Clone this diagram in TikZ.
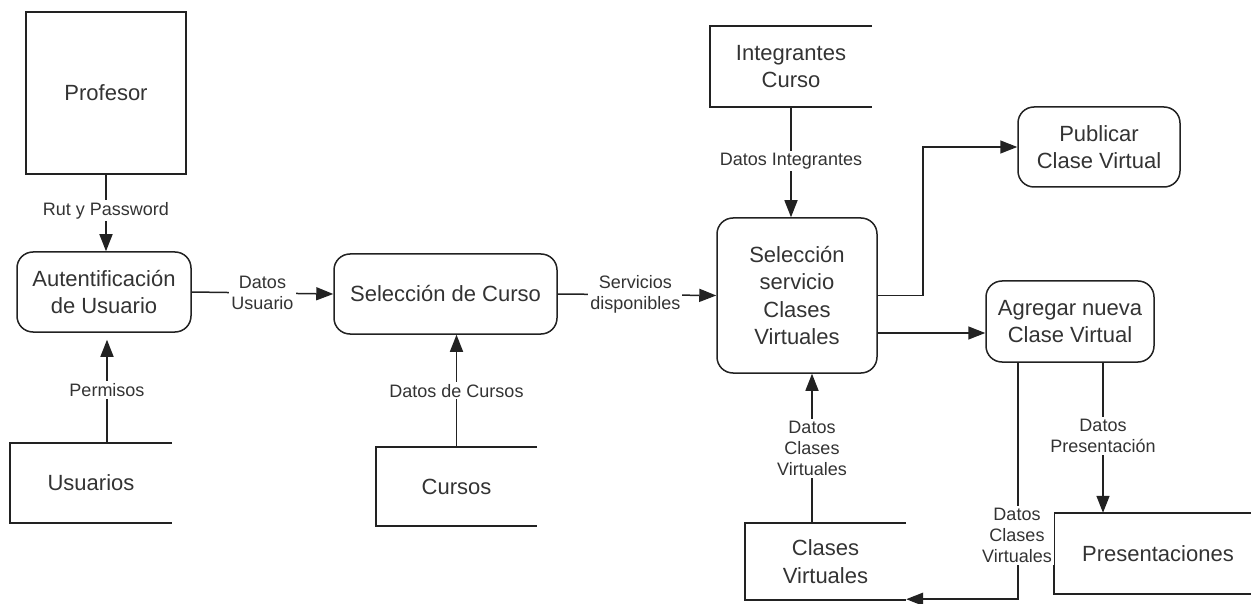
\documentclass[tikz,border=0pt]{standalone}
\usepackage{fontspec}
\setmainfont{Liberation Sans}
\usetikzlibrary{arrows.meta,calc}
\definecolor{txt}{HTML}{333333}
\definecolor{ln}{HTML}{222222}
\begin{document}
\begin{tikzpicture}[x=1pt,y=-1pt,
  every node/.style={text=txt},
  proc/.style={draw=ln,line width=1.5pt,rounded corners=16pt,align=center,
    font=\fontsize{22}{27.5}\selectfont,inner sep=0pt},
  ent/.style={draw=ln,line width=1.5pt,align=center,
    font=\fontsize{22}{27.5}\selectfont,inner sep=0pt},
  store/.style={align=center,font=\fontsize{22}{27.5}\selectfont,inner sep=0pt},
  storeline/.style={draw=ln,line width=1.5pt},
  flow/.style={draw=ln,line width=1.5pt,-{Triangle[length=17pt,width=13pt]}},
  lbl/.style={fill=white,align=center,font=\fontsize{18}{21}\selectfont,inner sep=2pt}]
\useasboundingbox (0,0) rectangle (1251,604);

% entities and processes
\node[ent,minimum width=160,minimum height=162] (prof) at (106,93) {Profesor};
\node[proc,minimum width=174,minimum height=80] (auth) at (104,292) {Autentificación\\de Usuario};
\node[proc,minimum width=223,minimum height=80] (curso) at (445.5,294) {Selección de Curso};
\node[proc,minimum width=160,minimum height=155] (serv) at (797,295.5) {Selección\\servicio\\Clases\\Virtuales};
\node[proc,minimum width=162,minimum height=80] (pub) at (1099,147) {Publicar\\Clase Virtual};
\node[proc,minimum width=168,minimum height=81] (agr) at (1070,321.5) {Agregar nueva\\Clase Virtual};

% data stores
\node[store,minimum width=162,minimum height=80] (usu) at (91,483) {Usuarios};
\node[store,minimum width=161,minimum height=79] (cur) at (456.5,486.5) {Cursos};
\node[store,minimum width=162,minimum height=81] (integ) at (791,66.5) {Integrantes\\Curso};
\node[store,minimum width=161,minimum height=77] (cv) at (825.5,561.5) {Clases\\Virtuales};
\node[store,minimum width=197,minimum height=81] (pres) at (1152.5,553.5) {\hspace*{11pt}Presentaciones};
\foreach \s in {usu,cur,integ,cv,pres}
  \draw[storeline] (\s.north east) -- (\s.north west) -- (\s.south west) -- (\s.south east);

% flows
\draw[flow] (prof.south) -- node[lbl,pos=0.47]{Rut y Password} (prof.south |- auth.north);
\draw[flow,shorten >=7pt] ([xshift=16]usu.north) -- node[lbl,pos=0.48]{Permisos} ([xshift=16]usu.north |- auth.south);
\draw[flow] (auth.east) -- node[lbl,pos=0.5]{Datos\\Usuario} (curso.west);
\draw[flow] (cur.north) -- node[lbl,pos=0.5]{Datos de Cursos} (cur.north |- curso.south);
\draw[flow] (curso.east) -- node[lbl,pos=0.49]{Servicios\\disponibles} (serv.west);
\draw[flow] (integ.south) -- node[lbl,pos=0.49]{Datos Integrantes} (integ.south |- serv.north);
\draw[flow] (serv.east) -- ++(45,0) |- (pub.west);
\coordinate (agrin) at ([yshift=-11.5]agr.west);
\draw[flow] (serv.east |- agrin) -- (agrin);
\draw[flow] ([xshift=-13.5]cv.north) -- node[lbl,pos=0.5]{Datos\\Clases\\Virtuales} ([xshift=-13.5]cv.north |- serv.south);
\draw[flow] ([xshift=33]agr.south) -- node[lbl,pos=0.49]{Datos\\Presentación} ([xshift=33]agr.south |- pres.north);
\draw[flow] ([xshift=-52]agr.south) |- ([yshift=1]cv.south east);
\node[lbl] (dcv2) at ($(agr.south)+(-53,173)$) {Datos\\Clases\\Virtuales};
\end{tikzpicture}
\end{document}
